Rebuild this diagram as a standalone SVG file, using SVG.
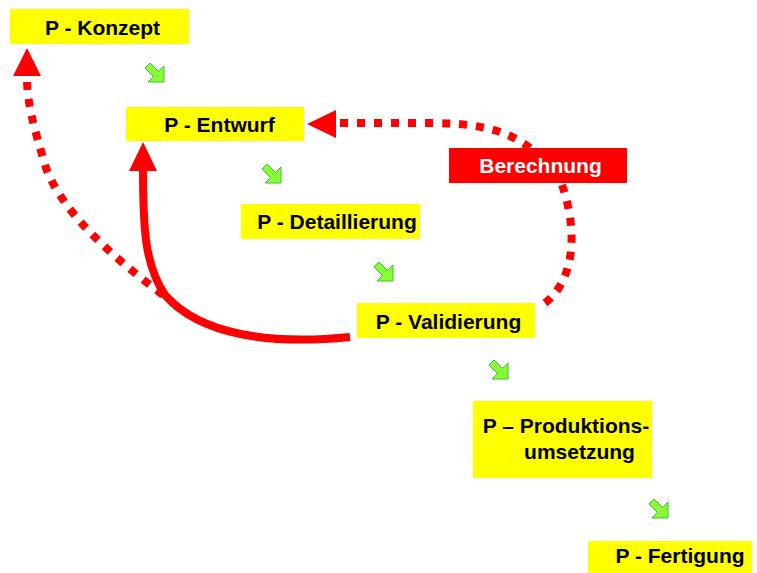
<svg xmlns="http://www.w3.org/2000/svg" width="757" height="573" viewBox="0 0 757 573">
<style>
.box{fill:#ffff00}
.rbox{fill:#ff0000}
.t{font-family:"Liberation Sans",Arial,sans-serif;font-weight:bold;font-size:21px;fill:#000;text-anchor:middle}
.w{fill:#fff}
.dot{fill:none;stroke:#ff0000;stroke-width:8;stroke-dasharray:8 9}
.solid{fill:none;stroke:#ff0000;stroke-width:8}
.head{fill:#ff0000}
.g{fill:#88ff33;stroke:#3cbf3c;stroke-width:1}
</style>
<defs>
<path id="ga" d="M7,0 L15.5,8.5 L21,3 L21,19 L5,19 L10.5,13.5 L2,5 Z"/>
</defs>
<rect width="757" height="573" fill="#fff"/>
<g id="connectors">
<path class="dot" d="M530,148 C505,128 470,123 430,123 L338,123"/>
<polygon class="head" points="307,124 336,110 336,138"/>
<path class="dot" d="M545,303 C575,280 578,230 562,185"/>
<path class="dot" d="M163,295 C110,255 60,210 45,165 C35,130 27,105 27,78"/>
<polygon class="head" points="27,48 13,76 41,76"/>
<path class="solid" d="M350,337 C270,345 200,335 165,295 C145,265 143,230 143,168"/>
<polygon class="head" points="143,142 129,171 157,171"/>
<use href="#ga" class="g" x="143" y="63"/>
<use href="#ga" class="g" x="260" y="164"/>
<use href="#ga" class="g" x="372" y="262"/>
<use href="#ga" class="g" x="487" y="360"/>
<use href="#ga" class="g" x="647" y="499"/>
</g>
<g id="konzept"><rect class="box" x="10" y="9" width="179" height="35"/><text class="t" x="102.5" y="35">P - Konzept</text></g>
<g id="entwurf"><rect class="box" x="126" y="107" width="178" height="34"/><text class="t" x="219.5" y="132">P - Entwurf</text></g>
<g id="detaillierung"><rect class="box" x="241" y="204" width="179" height="35"/><text class="t" x="337" y="229">P - Detaillierung</text></g>
<g id="berechnung"><rect class="rbox" x="449" y="148" width="178" height="35"/><text class="t w" x="540.5" y="173">Berechnung</text></g>
<g id="validierung"><rect class="box" x="357" y="303" width="178" height="35"/><text class="t" x="448.5" y="329">P - Validierung</text></g>
<g id="produktionsumsetzung"><rect class="box" x="473" y="401" width="179" height="77"/><text class="t" x="566" y="433">P – Produktions-</text><text class="t" x="579.5" y="459">umsetzung</text></g>
<g id="fertigung"><rect class="box" x="588" y="541" width="164" height="32"/><text class="t" x="680" y="563">P - Fertigung</text></g>
</svg>
